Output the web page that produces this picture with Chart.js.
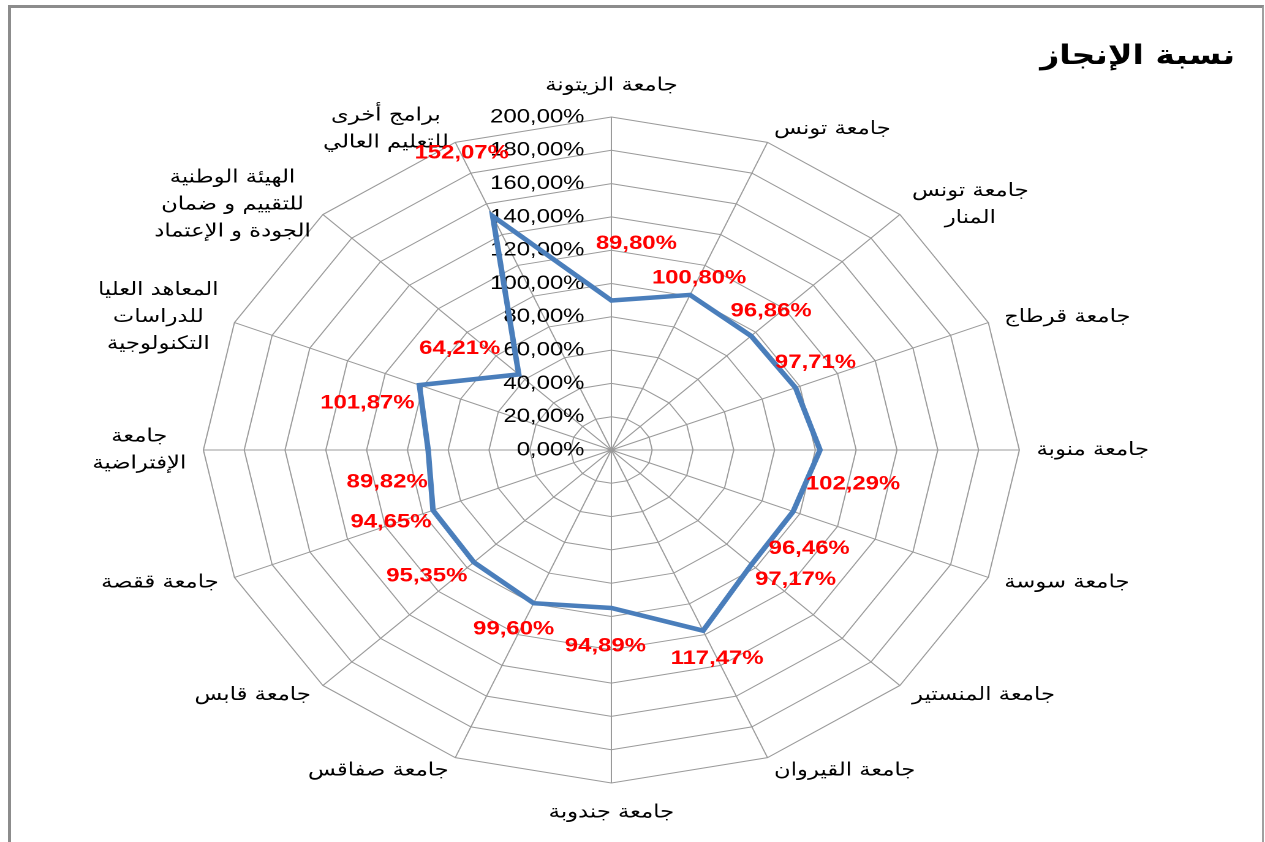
<!DOCTYPE html>
<html lang="ar">
<head>
<meta charset="utf-8">
<script src="https://cdn.jsdelivr.net/npm/chart.js@4.4.1/dist/chart.umd.min.js"></script>
<style>
html,body{margin:0;padding:0;background:#fff;overflow:hidden;width:1265px;height:842px;}
#frame{position:absolute;left:8px;top:5px;width:1256px;height:900px;border-left:3px solid #8c8c8c;border-top:3px solid #8c8c8c;border-right:2px solid #a0a0a0;box-sizing:border-box;pointer-events:none;}
#wrap{position:absolute;left:0;top:0;width:1033px;height:842px;transform:scaleX(1.2252);transform-origin:0 0;}
</style>
</head>
<body>
<div id="wrap"><canvas id="c"></canvas></div>
<div id="frame"></div>
<script>
const chartTitle = 'نسبة الإنجاز';
const categories = [
  'جامعة الزيتونة',
  'جامعة تونس',
  ['جامعة تونس', 'المنار'],
  'جامعة قرطاج',
  'جامعة منوبة',
  'جامعة سوسة',
  'جامعة المنستير',
  'جامعة القيروان',
  'جامعة جندوبة',
  'جامعة صفاقس',
  'جامعة قابس',
  'جامعة ققصة',
  ['جامعة', 'الإفتراضية'],
  ['المعاهد العليا', 'للدراسات', 'التكنولوجية'],
  ['الهيئة الوطنية', 'للتقييم و ضمان', 'الجودة و الإعتماد'],
  ['برامج أخرى', 'للتعليم العالي']
];
const values = [89.80, 100.80, 96.86, 97.71, 102.29, 96.46, 97.17, 117.47, 94.89, 99.60, 95.35, 94.65, 89.82, 101.87, 64.21, 152.07];
const tickValues = [0, 20, 40, 60, 80, 100, 120, 140, 160, 180, 200];
// data-label nudges (screen px) relative to each point, as placed in the original
const labelNudgeX = [25, 9, 20, 20, 33, 16, 44, 14, -6, -20, -47, -42, -41, -52, -59, -31];
const labelNudgeY = [-57, -17, -25, -25, 34, 37, 15, 28, 38, 26, 14, 12, 32, 18, -26, -63];

const S = 1.2252; // horizontal stretch of the original picture
const fmt = v => v.toFixed(2).replace('.', ',') + '%';
const LATIN = '"Liberation Sans", Arial, sans-serif';
const ARABIC = '"DejaVu Sans", "Liberation Sans", sans-serif';

const decor = {
  id: 'decor',
  beforeDatasetsDraw(chart) {
    const r = chart.scales.r;
    const ctx = chart.ctx;
    ctx.save();
    ctx.font = '19.5px ' + LATIN;
    ctx.fillStyle = '#000';
    ctx.textAlign = 'right';
    ctx.textBaseline = 'middle';
    tickValues.forEach(v => {
      const d = r.getDistanceFromCenterForValue(v);
      ctx.fillText(fmt(v), r.xCenter - 22, r.yCenter - d);
    });
    ctx.font = '18.5px ' + ARABIC;
    ctx.textAlign = 'center';
    const lh = 27;
    const n = categories.length;
    categories.forEach((lab, i) => {
      const lines = Array.isArray(lab) ? lab : [lab];
      const p = r.getPointPosition(i, r.drawingArea + 14);
      const deg = Math.round(i * 360 / n) % 360;
      const w = Math.max(...lines.map(l => ctx.measureText(l).width));
      const h = lines.length * lh;
      let cx, cy;
      if (deg === 0) { cx = p.x; cy = p.y - h / 2 - 4; }
      else if (deg === 180) { cx = p.x; cy = p.y + h / 2 + 2; }
      else if (deg < 180) { cx = p.x + w / 2; cy = p.y; }
      else { cx = p.x - w / 2; cy = p.y; }
      lines.forEach((l, k) => ctx.fillText(l, cx, cy - h / 2 + lh * (k + 0.5)));
    });
    ctx.restore();
  },
  afterDatasetsDraw(chart) {
    const ctx = chart.ctx;
    const meta = chart.getDatasetMeta(0);
    ctx.save();
    ctx.font = 'bold 19.5px ' + LATIN;
    ctx.fillStyle = '#FF0000';
    ctx.textAlign = 'center';
    ctx.textBaseline = 'middle';
    meta.data.forEach((pt, i) => {
      ctx.fillText(fmt(values[i]), pt.x + labelNudgeX[i] / S, pt.y + labelNudgeY[i]);
    });
    ctx.font = 'bold 27px ' + ARABIC;
    ctx.fillStyle = '#000';
    ctx.textAlign = 'right';
    ctx.fillText(chartTitle, 1008, 57);
    ctx.restore();
  }
};

new Chart(document.getElementById('c'), {
  type: 'radar',
  data: {
    labels: categories,
    datasets: [{
      label: chartTitle,
      data: values,
      borderColor: '#4A7EBB',
      borderWidth: 4.5,
      pointRadius: 0,
      pointHoverRadius: 0,
      fill: false,
      tension: 0
    }]
  },
  options: {
    responsive: true,
    maintainAspectRatio: false,
    devicePixelRatio: 2,
    animation: false,
    layout: { padding: { left: 166, right: 201, top: 117, bottom: 59 } },
    plugins: { legend: { display: false }, tooltip: { enabled: false }, title: { display: false } },
    scales: {
      r: {
        min: 0,
        max: 200,
        ticks: { stepSize: 20, display: false },
        pointLabels: { display: false },
        grid: { color: '#9a9a9a', lineWidth: 1 },
        angleLines: { color: '#9a9a9a', lineWidth: 1 }
      }
    }
  },
  plugins: [decor]
});
</script>
</body>
</html>
